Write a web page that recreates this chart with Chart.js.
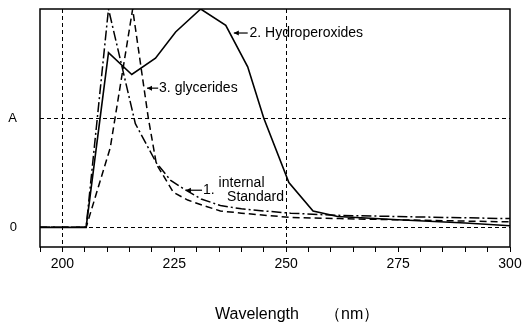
<!DOCTYPE html>
<html>
<head>
<meta charset="utf-8">
<script src="https://cdn.jsdelivr.net/npm/chart.js@4/dist/chart.umd.min.js"></script>
<style>
	html, body { margin: 0; padding: 0; background: #fff; }
	#wrap { width: 532px; height: 325px; }
</style>
</head>
<body>
<div id="wrap"><canvas id="uvChart" width="532" height="325"></canvas></div>
<script>
// Espectros UV (absorbancia relativa frente a longitud de onda, nm)
const hydroX = [195, 205.3, 210.3, 215.5, 220.8, 225.3, 230.9, 236.5, 241.4, 245, 250.6, 256, 261.5, 275, 290, 300];
const hydroY = [0, 0, 1.6, 1.40, 1.55, 1.79, 2.0, 1.85, 1.47, 1.0, 0.41, 0.15, 0.10, 0.07, 0.04, 0.015];

const glyX = [195, 205.3, 210.7, 215.7, 219.2, 221, 224.8, 228, 231.5, 235.3, 240, 251, 262, 280, 300];
const glyY = [0, 0, 0.73, 2.0, 1.0, 0.58, 0.32, 0.25, 0.2, 0.15, 0.13, 0.09, 0.08, 0.065, 0.05];

const stdX = [195, 205.3, 210.3, 216.3, 221, 224.2, 227.6, 231, 235.3, 240, 245, 251, 261.5, 280, 300];
const stdY = [0, 0, 2.0, 0.95, 0.59, 0.43, 0.34, 0.26, 0.2, 0.17, 0.15, 0.13, 0.11, 0.095, 0.08];

const xTickLabels = [200, 225, 250, 275, 300];
const xGridLines = [200, 250];
const yRefLines = [0, 1];
const yTickLabels = ['0', 'A'];

function toPoints(xs, ys) {
	return xs.map((x, i) => ({ x: x, y: ys[i] }));
}

// Etiquetas con flecha, en coordenadas de datos
const labels = [
	{ from: [238.3, 1.78], to: [241.4, 1.78], lines: [{ text: '2. Hydroperoxides', x: 241.8, y: 1.78 }] },
	{ from: [218.9, 1.275], to: [221.4, 1.275], lines: [{ text: '3. glycerides', x: 221.6, y: 1.275 }] },
	{ from: [227.6, 0.34], to: [231.2, 0.34], lines: [
		{ text: '1.', x: 231.4, y: 0.34 },
		{ text: 'internal', x: 234.9, y: 0.405 },
		{ text: 'Standard', x: 236.8, y: 0.275 }
	] }
];

const decorPlugin = {
	id: 'decor',
	beforeDatasetsDraw(chart) {
		const { ctx, chartArea: a, scales: { x, y } } = chart;
		ctx.save();
		ctx.strokeStyle = '#000';
		ctx.lineWidth = 1;
		ctx.setLineDash([4, 3]);
		xGridLines.forEach(v => {
			const px = Math.round(x.getPixelForValue(v)) + 0.5;
			ctx.beginPath(); ctx.moveTo(px, a.top); ctx.lineTo(px, a.bottom); ctx.stroke();
		});
		yRefLines.forEach(v => {
			const py = Math.round(y.getPixelForValue(v)) + 0.5;
			ctx.beginPath(); ctx.moveTo(a.left, py); ctx.lineTo(a.right, py); ctx.stroke();
		});
		ctx.restore();
	},
	afterDraw(chart) {
		const { ctx, chartArea: a, scales: { x, y } } = chart;
		ctx.save();
		// marco
		ctx.strokeStyle = '#000';
		ctx.lineWidth = 1.5;
		ctx.setLineDash([]);
		ctx.strokeRect(a.left, a.top, a.right - a.left, a.bottom - a.top);

		// flechas y textos
		ctx.fillStyle = '#000';
		ctx.lineWidth = 1.2;
		ctx.font = '14px "Liberation Sans", Arial, sans-serif';
		ctx.textBaseline = 'middle';
		labels.forEach(l => {
			const x1 = x.getPixelForValue(l.from[0]), y1 = y.getPixelForValue(l.from[1]);
			const x2 = x.getPixelForValue(l.to[0]);
			ctx.beginPath(); ctx.moveTo(x1, y1); ctx.lineTo(x2, y1); ctx.stroke();
			ctx.beginPath();
			ctx.moveTo(x1, y1); ctx.lineTo(x1 + 5, y1 - 2.5); ctx.lineTo(x1 + 5, y1 + 2.5); ctx.closePath();
			ctx.fill();
			l.lines.forEach(t => {
				ctx.textAlign = 'left';
				ctx.fillText(t.text, x.getPixelForValue(t.x), y.getPixelForValue(t.y));
			});
		});

		// titulo del eje x
		ctx.font = '16px "Liberation Sans", Arial, sans-serif';
		ctx.textAlign = 'left';
		ctx.fillText('Wavelength', 215, 315);
		ctx.fillText('（nm）', 325, 315);
		ctx.restore();
	}
};

const ctx = document.getElementById('uvChart').getContext('2d');
new Chart(ctx, {
	type: 'line',
	data: {
		datasets: [
			{ label: '2. Hydroperoxides', data: toPoints(hydroX, hydroY), borderColor: '#000', borderWidth: 1.6, pointRadius: 0, tension: 0 },
			{ label: '3. glycerides', data: toPoints(glyX, glyY), borderColor: '#000', borderWidth: 1.5, borderDash: [7, 4], pointRadius: 0, tension: 0 },
			{ label: '1. internal Standard', data: toPoints(stdX, stdY), borderColor: '#000', borderWidth: 1.5, borderDash: [10, 3, 2, 3], pointRadius: 0, tension: 0 }
		]
	},
	options: {
		responsive: false,
		animation: false,
		layout: { autoPadding: false, padding: { left: 0, right: 22, top: 9, bottom: 0 } },
		plugins: { legend: { display: false }, tooltip: { enabled: false } },
		scales: {
			x: {
				type: 'linear',
				min: 195,
				max: 300,
				afterBuildTicks(scale) {
					const ticks = [];
					for (let v = 195; v <= 300; v += 5) ticks.push({ value: v });
					scale.ticks = ticks;
				},
				afterFit(scale) { scale.height = 78; scale.paddingLeft = 0; scale.paddingRight = 0; },
				ticks: {
					autoSkip: false,
					maxRotation: 0,
					padding: 4,
					color: '#000',
					font: { family: '"Liberation Sans", Arial, sans-serif', size: 14 },
					callback: v => xTickLabels.includes(v) ? String(v) : ''
				},
				grid: { drawOnChartArea: false, drawTicks: true, tickLength: 5, tickColor: '#000', tickWidth: 1 },
				border: { display: false }
			},
			y: {
				type: 'linear',
				min: -0.18,
				max: 2.0,
				afterBuildTicks(scale) {
					scale.ticks = yRefLines.map(v => ({ value: v }));
				},
				afterFit(scale) { scale.width = 40; scale.paddingTop = 0; scale.paddingBottom = 0; },
				ticks: {
					padding: 23,
					color: '#000',
					font: { family: '"Liberation Sans", Arial, sans-serif', size: 13 },
					callback: (v, i) => yTickLabels[i]
				},
				grid: { display: false, drawTicks: false },
				border: { display: false }
			}
		}
	},
	plugins: [decorPlugin]
});
</script>
</body>
</html>
